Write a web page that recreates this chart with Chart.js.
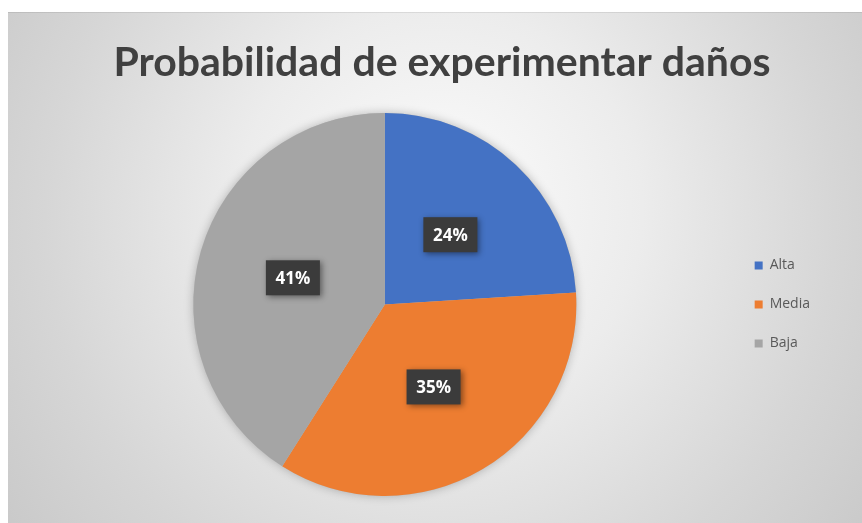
<!DOCTYPE html>
<html>
<head>
<meta charset="utf-8">
<script src="https://cdn.jsdelivr.net/npm/chart.js@4.4.1/dist/chart.umd.min.js"></script>
<style>
  html, body { margin: 0; padding: 0; background: #ffffff; }
  #wrap { width: 862px; height: 523px; position: relative; }
</style>
</head>
<body>
<div id="wrap"><canvas id="c" width="862" height="523"></canvas></div>
<script>
const categories = ["Alta", "Media", "Baja"];
const values = [24, 35, 41];
const sliceColors = ["#4472C4", "#ED7D31", "#A5A5A5"];
const titleText = "Probabilidad de experimentar daños";

const bgPlugin = {
  id: 'bg',
  beforeDraw(chart) {
    const ctx = chart.ctx;
    ctx.save();
    ctx.fillStyle = '#ffffff';
    ctx.fillRect(0, 0, chart.width, chart.height);
    const x0 = 8, y0 = 12, w = chart.width - 8, h = chart.height - 12;
    const g = ctx.createRadialGradient(440, 200, 10, 440, 230, 560);
    g.addColorStop(0, '#fbfbfb');
    g.addColorStop(0.35, '#ececec');
    g.addColorStop(0.7, '#d6d6d6');
    g.addColorStop(1, '#c6c6c6');
    ctx.fillStyle = g;
    ctx.fillRect(x0, y0, w, h);
    ctx.fillStyle = 'rgba(0,0,0,0.08)';
    ctx.fillRect(x0, y0, w, 1);
    // title
    ctx.fillStyle = '#404040';
    ctx.font = 'bold 41px Lato, "Open Sans", sans-serif';
    ctx.textAlign = 'center';
    ctx.textBaseline = 'alphabetic';
    ctx.fillText(titleText, 442, 76);
    ctx.restore();
  },
  beforeDatasetsDraw(chart) {
    const meta = chart.getDatasetMeta(0);
    if (!meta.data.length) return;
    const a = meta.data[0];
    const ctx = chart.ctx;
    ctx.save();
    ctx.shadowColor = 'rgba(0,0,0,0.25)';
    ctx.shadowBlur = 10;
    ctx.fillStyle = '#bbbbbb';
    ctx.beginPath();
    ctx.arc(a.x, a.y, a.outerRadius, 0, Math.PI * 2);
    ctx.fill();
    ctx.restore();
  }
};

const labelPlugin = {
  id: 'boxlabels',
  afterDatasetsDraw(chart) {
    const ctx = chart.ctx;
    const meta = chart.getDatasetMeta(0);
    const ds = chart.data.datasets[0].data;
    const total = ds.reduce((s, v) => s + v, 0);
    meta.data.forEach((arc, i) => {
      const p = arc.getCenterPoint();
      const txt = Math.round(ds[i] / total * 100) + '%';
      const bw = 54, bh = 35;
      ctx.save();
      ctx.shadowColor = 'rgba(0,0,0,0.45)';
      ctx.shadowBlur = 6;
      ctx.shadowOffsetX = 2;
      ctx.shadowOffsetY = 2;
      ctx.fillStyle = '#3b3b3b';
      ctx.fillRect(p.x - bw / 2, p.y - bh / 2, bw, bh);
      ctx.restore();
      ctx.save();
      ctx.fillStyle = '#ffffff';
      ctx.font = 'bold 17px "Open Sans", sans-serif';
      ctx.textAlign = 'center';
      ctx.textBaseline = 'middle';
      ctx.fillText(txt, p.x, p.y + 1);
      ctx.restore();
    });
  }
};

new Chart(document.getElementById('c'), {
  type: 'pie',
  data: {
    labels: categories,
    datasets: [{
      data: values,
      backgroundColor: sliceColors,
      borderWidth: 0
    }]
  },
  options: {
    responsive: false,
    animation: false,
    layout: { padding: { top: 113, bottom: 27, left: 40, right: 42 } },
    plugins: {
      title: { display: false },
      legend: {
        display: true,
        position: 'right',
        align: 'center',
        labels: {
          boxWidth: 8,
          boxHeight: 8,
          padding: 25,
          color: '#595959',
          font: { family: '"Open Sans", sans-serif', size: 14 }
        }
      },
      tooltip: { enabled: false }
    }
  },
  plugins: [bgPlugin, labelPlugin]
});
</script>
</body>
</html>
